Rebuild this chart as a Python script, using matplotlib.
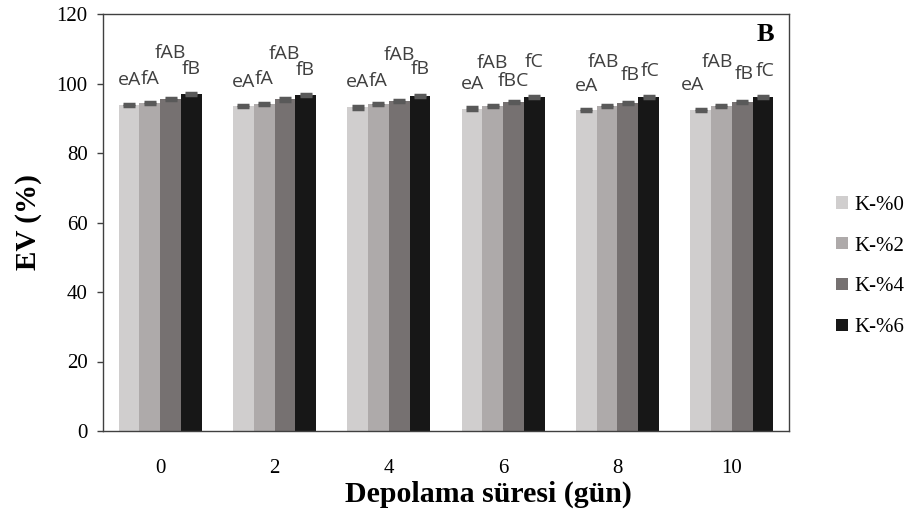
import matplotlib
matplotlib.use("Agg")
import matplotlib.pyplot as plt
from matplotlib.patches import Patch
import numpy as np

# storage days and treatments
days = ["0", "2", "4", "6", "8", "10"]
series_names = ["K-%0", "K-%2", "K-%4", "K-%6"]

# EV (%) per treatment, one value per storage day
ev_k0 = [93.8, 93.5, 93.1, 92.8, 92.5, 92.4]
ev_k2 = [94.5, 94.2, 94.0, 93.6, 93.5, 93.4]
ev_k4 = [95.5, 95.4, 95.0, 94.8, 94.4, 94.6]
ev_k6 = [96.9, 96.7, 96.5, 96.1, 96.1, 96.0]
err = [0.3, 0.3, 0.3, 0.3]

# significance letters
labels_k0 = ["eA", "eA", "eA", "eA", "eA", "eA"]
labels_k2 = ["fA", "fA", "fA", "fAB", "fAB", "fAB"]
labels_k4 = ["fAB", "fAB", "fAB", "fBC", "fB", "fB"]
labels_k6 = ["fB", "fB", "fB", "fC", "fC", "fC"]

values = [ev_k0, ev_k2, ev_k4, ev_k6]
letters = [labels_k0, labels_k2, labels_k4, labels_k6]
colors = ["#d0cece", "#aeaaaa", "#767171", "#171717"]

# label offsets from bar top (points), per series x day
lift = [[18, 17, 18, 18, 17, 18],
        [17, 18, 17, 31, 32, 32],
        [33, 33, 33, 15, 20, 20],
        [18, 18, 19, 25, 19, 19]]
shift = [[0, 0, 0, 0, 0, -6],
         [0, 0, 0, 0, -3, -3],
         [0, 0, 0, 0, 1.5, 1.5],
         [0, 0, 0, 0, 1.5, 1.5]]

plt.rcParams["font.family"] = ["Liberation Serif", "DejaVu Serif"]

fig = plt.figure(figsize=(9.1, 5.26), dpi=100)
ax = fig.add_axes([103 / 910, 95 / 526, 686 / 910, 417 / 526])

x = np.arange(len(days))
w = 0.181
for i, (vals, col) in enumerate(zip(values, colors)):
    pos = x + (i - 1.5) * w
    ax.bar(pos, vals, width=w, color=col, zorder=2)
    ax.errorbar(pos, vals, yerr=err[i], fmt="none", ecolor="#595959",
                elinewidth=2, capsize=4, capthick=2.5, zorder=3)
    for p, v, t, dy, dx in zip(pos, vals, letters[i], lift[i], shift[i]):
        ax.annotate(t, (p, v), xytext=(dx, dy), textcoords="offset points",
                    ha="center", va="center", fontsize=14, color="#404040",
                    family=["Open Sans", "DejaVu Sans"])

ax.set_xlim(-0.5, len(days) - 0.5)
ax.set_ylim(0, 120)
ax.set_yticks(range(0, 121, 20))
ax.set_xticks(x)
ax.set_xticklabels(days)
ax.tick_params(axis="x", length=0, pad=20, labelsize=15)
ax.tick_params(axis="y", length=4, width=1, pad=7, labelsize=15, color="#404040")
for s in ax.spines.values():
    s.set_color("#404040")
    s.set_linewidth(1)

fig.text(28 / 910, 1 - 222 / 526, "EV (%)", rotation=90, ha="center", va="center",
         fontsize=21, fontweight="bold")
fig.text(488 / 910, 1 - 494 / 526, "Depolama süresi (gün)", ha="center", va="center",
         fontsize=21.5, fontweight="bold")
ax.text(0.978, 0.95, "B", transform=ax.transAxes, ha="right", va="center",
        fontsize=19, fontweight="bold")

handles = [Patch(facecolor=c, edgecolor="none") for c in colors]
fig.legend(handles, series_names, loc="center left",
           bbox_to_anchor=(826 / 910, 1 - 266.5 / 526), frameon=False,
           fontsize=15, handlelength=0.55, handleheight=0.55, handletextpad=0.3,
           labelspacing=1.05, borderpad=0)

fig.savefig("out.png", dpi=100)
